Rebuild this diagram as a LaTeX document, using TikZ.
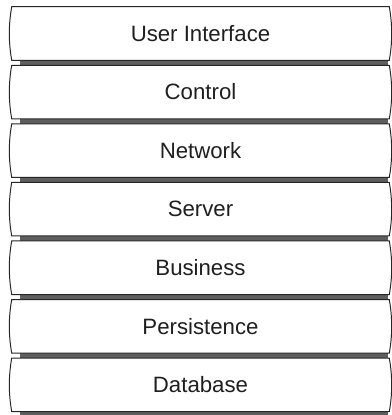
\documentclass[tikz,border=0pt]{standalone}
\usepackage{fontspec}
\setmainfont{Liberation Sans}
\usepackage{tikz}
\usetikzlibrary{
  positioning,%
  backgrounds
}
\tikzset{font=\fontsize{15.8}{18}\selectfont}
\tikzset{layer/.style={minimum width=9.425cm, minimum height=1.325cm,
    inner sep=0pt, text=black!88}}
\tikzset{layer edge/.style={draw=black!85, fill=white, line width=0.7pt}}
\tikzset{layer shadow/.style={fill=black!63}}

\begin{document}
\begin{tikzpicture}
  \useasboundingbox (0,0) rectangle (9.775,-10.375);
  \node[layer] (ui) at (5.0125,-0.8375) {User Interface};
  \node[layer, below=0.125cm of ui] (control) {Control};
  \node[layer, below=0.125cm of control] (network) {Network};
  \node[layer, below=0.125cm of network] (server) {Server};
  \node[layer, below=0.125cm of server] (business) {Business};
  \node[layer, below=0.125cm of business] (persistence) {Persistence};
  \node[layer, below=0.125cm of persistence] (database) {Database};
  % boxes with bowed sides and a shadow underneath
  \begin{pgfonlayer}{background}
    \foreach \n in {ui,control,network,server,business,persistence,database}{
      \fill[layer shadow] ([xshift=0.2cm]\n.south west) rectangle
        ([xshift=-0.025cm, yshift=-0.15cm]\n.south east);
      \path[layer edge] (\n.north west)
        .. controls +(-0.08,-0.45) and +(-0.08,0.45) .. (\n.south west)
        -- (\n.south east)
        .. controls +(0.08,0.45) and +(0.08,-0.45) .. (\n.north east)
        -- cycle;
    }
  \end{pgfonlayer}
\end{tikzpicture}
\end{document}
